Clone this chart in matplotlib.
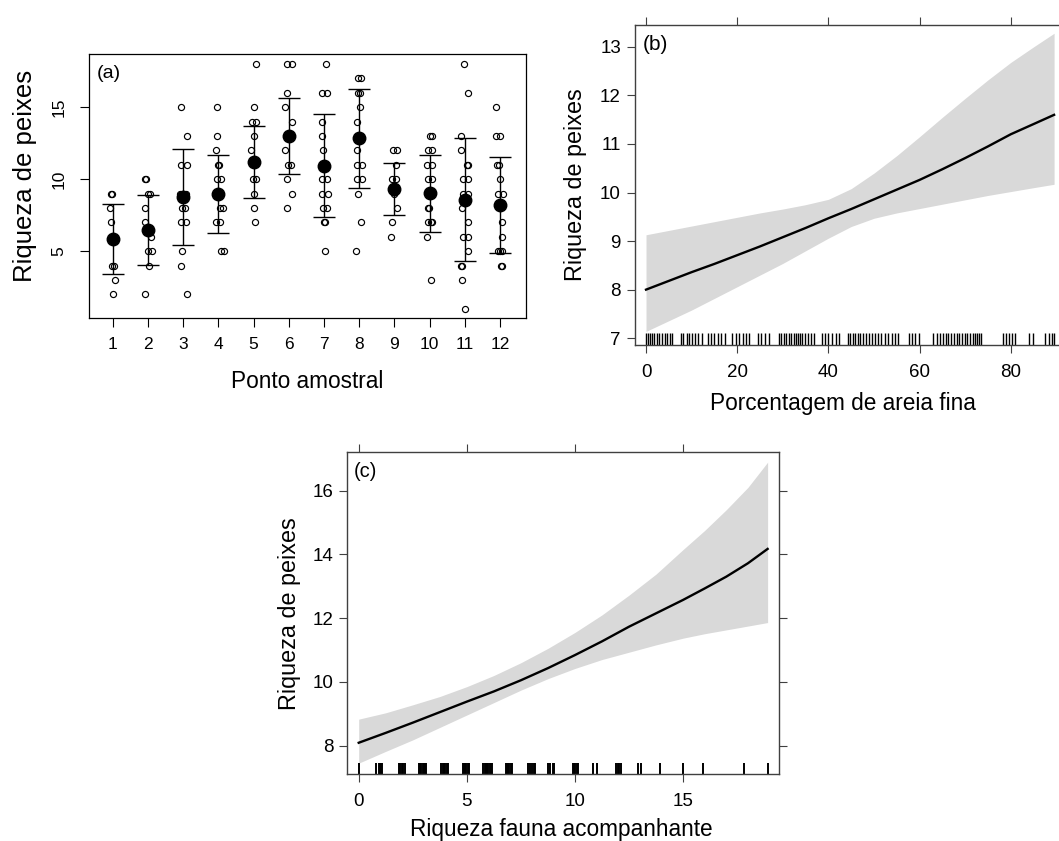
import matplotlib
matplotlib.use("Agg")
import matplotlib.pyplot as plt
import numpy as np

plt.rcParams['font.family'] = ['Liberation Sans', 'DejaVu Sans']

W, H = 1059, 841

# (a) riqueza de peixes por ponto amostral
pontos = list(range(1, 13))
riqueza_pontos = [
    [9, 9, 8, 7, 4, 4, 3, 2],
    [10, 10, 9, 9, 8, 7, 6, 5, 5, 4, 2],
    [15, 13, 11, 11, 9, 9, 9, 8, 8, 7, 7, 5, 4, 2],
    [15, 13, 12, 11, 11, 10, 10, 8, 8, 7, 7, 5, 5],
    [18, 15, 14, 14, 13, 12, 10, 10, 9, 8, 7],
    [18, 18, 16, 15, 14, 12, 11, 11, 10, 9, 8],
    [18, 16, 16, 14, 13, 12, 10, 10, 9, 9, 8, 8, 7, 7, 5],
    [17, 17, 16, 16, 15, 14, 12, 11, 11, 10, 10, 9, 7, 5],
    [12, 12, 11, 10, 10, 9, 8, 7, 6],
    [13, 13, 12, 12, 11, 11, 10, 10, 9, 8, 8, 7, 7, 7, 6, 3],
    [18, 16, 13, 12, 11, 11, 10, 10, 9, 9, 8, 7, 6, 6, 5, 4, 4, 3, 1],
    [15, 13, 13, 11, 11, 10, 9, 9, 7, 6, 5, 5, 5, 4, 4],
]
# deslocamento horizontal (jitter)
jitter_pontos = [
    [-0.05, -0.03, -0.07, -0.05, -0.02, 0.02, 0.05, 0.0],
    [-0.1, -0.07, 0.0, 0.05, -0.1, -0.1, 0.07, 0.0, 0.1, 0.04, -0.08],
    [-0.07, 0.1, -0.05, 0.12, -0.08, 0.0, 0.08, -0.03, 0.05, -0.05, 0.08, -0.04, -0.07, 0.1],
    [-0.05, -0.05, -0.08, -0.02, 0.02, -0.05, 0.08, 0.03, 0.12, -0.07, 0.05, 0.06, 0.16],
    [0.07, 0.0, -0.05, 0.07, 0.0, -0.07, -0.03, 0.08, 0.0, 0.0, 0.03],
    [-0.05, 0.1, -0.05, -0.1, 0.1, -0.1, -0.03, 0.06, -0.05, 0.08, -0.05],
    [0.05, -0.05, 0.08, -0.07, -0.07, -0.02, -0.05, 0.08, -0.05, 0.1, -0.04, 0.08, 0.0, 0.04, 0.03],
    [-0.03, 0.05, -0.02, 0.03, 0.03, -0.05, -0.06, -0.05, 0.07, -0.05, 0.08, -0.03, 0.05, -0.08],
    [-0.03, 0.08, 0.05, -0.07, 0.05, 0.0, 0.08, -0.07, -0.09],
    [0.02, 0.06, -0.05, 0.07, -0.06, 0.06, -0.05, 0.07, 0.0, -0.05, -0.02, -0.04, 0.03, 0.07, -0.06, 0.03],
    [-0.02, 0.1, -0.1, -0.12, 0.05, 0.08, -0.05, 0.08, -0.06, 0.08, -0.08, 0.1, -0.05, 0.08, 0.08, -0.1, -0.07, -0.08, 0.0],
    [-0.1, -0.12, 0.0, -0.07, -0.03, 0.0, -0.05, 0.08, 0.07, 0.07, -0.05, 0.0, 0.05, 0.03, 0.06],
]
media = [5.84, 6.45, 8.75, 8.95, 11.2, 13.0, 10.93, 12.86, 9.33, 9.03, 8.58, 8.2]
desvio = [2.42, 2.43, 3.32, 2.70, 2.48, 2.61, 3.58, 3.44, 1.79, 2.68, 4.25, 3.32]

# (b) porcentagem de areia fina
areia_x = [0, 5, 10, 15, 20, 25, 30, 35, 40, 45, 50, 55, 60, 65, 70, 75, 80, 85, 89.5]
areia_fit = [8.0, 8.18, 8.36, 8.53, 8.71, 8.89, 9.08, 9.27, 9.47, 9.66, 9.86, 10.06, 10.26,
             10.48, 10.71, 10.95, 11.2, 11.41, 11.6]
areia_sup = [9.13, 9.22, 9.31, 9.4, 9.49, 9.58, 9.66, 9.75, 9.86, 10.08, 10.4, 10.76, 11.15,
             11.55, 11.94, 12.32, 12.68, 13.0, 13.28]
areia_inf = [7.14, 7.36, 7.58, 7.82, 8.06, 8.3, 8.54, 8.8, 9.06, 9.3, 9.47, 9.58, 9.67,
             9.76, 9.85, 9.94, 10.02, 10.1, 10.17]
rug_areia = [0, 0.4, 0.9, 1.3, 1.8, 2.4, 2.9, 3.5, 4.1, 4.6, 5.2, 5.8,
             7.6, 8.2, 8.9, 9.4, 10.1, 10.8, 11.5, 12.2,
             13.6, 14.3, 15.0, 15.8, 16.5, 17.4,
             18.9, 19.7, 20.4, 21.2, 21.9, 22.6,
             24.6, 25.3, 26.1, 27.0,
             29.1, 29.7, 30.2, 30.8, 31.3, 31.9, 32.5, 33.0, 33.4, 33.8,
             34.3, 34.9, 35.5, 36.2, 36.8,
             38.6, 39.3, 40.0, 40.8, 41.6, 42.3,
             44.2, 44.8, 45.3, 45.9, 46.5, 47.0, 47.6, 48.3, 48.9, 49.6,
             50.2, 50.9, 51.6, 52.4, 53.1, 53.9, 54.6, 55.3,
             57.6, 58.3, 59.1, 59.9,
             63.0, 63.8, 64.5, 65.1, 65.7, 66.3, 66.9, 67.5, 68.1, 68.7,
             69.3, 69.9, 70.5, 71.1, 71.7, 72.2, 72.6, 73.0, 73.5,
             78.3, 78.9, 79.5, 80.2, 81.0,
             84.1, 84.8,
             87.6, 88.3, 89.0, 89.5]

# (c) riqueza da fauna acompanhante
fauna_x = [0, 1.25, 2.5, 3.75, 5, 6.25, 7.5, 8.75, 10, 11.25, 12.5, 13.75, 15, 16, 17, 18, 18.91]
fauna_fit = [8.09, 8.40, 8.72, 9.05, 9.38, 9.70, 10.05, 10.43, 10.84, 11.27, 11.73, 12.15,
             12.57, 12.93, 13.30, 13.72, 14.17]
fauna_sup = [8.83, 9.03, 9.28, 9.54, 9.85, 10.2, 10.6, 11.05, 11.55, 12.1, 12.72, 13.38,
             14.15, 14.75, 15.4, 16.1, 16.89]
fauna_inf = [7.45, 7.82, 8.18, 8.57, 8.96, 9.35, 9.74, 10.1, 10.42, 10.7, 10.93, 11.16,
             11.37, 11.51, 11.63, 11.75, 11.86]
rug_fauna = [0.0,
             0.82, 0.92, 0.97, 1.02, 1.07,
             1.87, 1.93, 1.99, 2.05, 2.12,
             2.78, 2.84, 2.9, 2.96, 3.02, 3.08, 3.13,
             3.82, 3.88, 3.94, 4.0, 4.06, 4.12,
             4.8, 4.86, 4.92, 4.98, 5.04, 5.1,
             5.76, 5.82, 5.88, 5.94, 6.0, 6.06, 6.12, 6.18,
             6.79, 6.85, 6.91, 6.97, 7.03, 7.09,
             7.82, 7.9, 8.02, 8.1, 8.16,
             8.77, 8.85, 8.97, 9.05,
             9.9, 9.96, 10.02, 10.08, 10.14,
             10.83, 11.01,
             11.9, 11.98, 12.06, 12.13,
             12.9, 13.07,
             13.92, 15.0, 15.94, 17.84, 18.91]


def rect(l, t, r, b):
    return [l / W, 1 - b / H, (r - l) / W, (b - t) / H]


fig = plt.figure(figsize=(W / 100, H / 100), dpi=100)

# ---- painel (a)
ax = fig.add_axes(rect(89.3, 54.3, 526, 318.3))
for p, vals, dxs in zip(pontos, riqueza_pontos, jitter_pontos):
    ax.plot(np.array(dxs) + p, vals, 'o', mfc='none', mec='black', ms=4.4, mew=0.85, zorder=2)
ax.errorbar(pontos, media, yerr=desvio, fmt='none', ecolor='black',
            elinewidth=1.0, capsize=8, capthick=1.0, zorder=3)
ax.plot(pontos, media, 'o', color='black', ms=9, zorder=4)
ax.set_xlim(0.33, 12.74)
ax.set_ylim(0.33, 18.68)
ax.set_xticks(pontos)
ax.set_yticks([5, 10, 15])
ax.set_yticklabels(['5', '10', '15'], rotation=90, va='center')
ax.tick_params(direction='out', length=6.5, width=0.8, labelsize=12.5)
ax.tick_params(axis='x', pad=7)
ax.tick_params(axis='y', pad=10)
for s in ax.spines.values():
    s.set_linewidth(0.9)
ax.set_xlabel('Ponto amostral', fontsize=16.3, va='center')
ax.xaxis.set_label_coords(0.5, -0.2375)
ax.set_ylabel('Riqueza de peixes', fontsize=18.5, va='center')
ax.yaxis.set_label_coords(-0.147, 0.54)
fig.text(109 / W, 1 - 74 / H, '(a)', fontsize=14, ha='center', va='center')

# ---- painéis (b) e (c), estilo lattice
grey = '#404040'


def estilo_lattice(ax):
    ax.tick_params(top=True, right=True, labeltop=False, labelright=False,
                   direction='out', length=6, width=0.8, color=grey, labelsize=13.5)
    ax.tick_params(axis='x', pad=8)
    ax.tick_params(axis='y', pad=4)
    for s in ax.spines.values():
        s.set_color(grey)
        s.set_linewidth(1.0)


ax = fig.add_axes(rect(634.8, 25, 1065.5, 345))
ax.fill_between(areia_x, areia_inf, areia_sup, color='#d9d9d9', lw=0)
ax.plot(areia_x, areia_fit, color='black', lw=1.7)
ax.vlines(rug_areia, 0, 0.037, transform=ax.get_xaxis_transform(), color='black', lw=1.0)
ax.set_xlim(-2.46, 92)
ax.set_ylim(6.86, 13.45)
ax.set_xticks([0, 20, 40, 60, 80])
ax.set_yticks([7, 8, 9, 10, 11, 12, 13])
estilo_lattice(ax)
ax.set_xlabel('Porcentagem de areia fina', fontsize=16.3, va='center')
ax.xaxis.set_label_coords(0.483, -0.184)
ax.set_ylabel('Riqueza de peixes', fontsize=16.8, va='center')
ax.yaxis.set_label_coords(-0.137, 0.5)
fig.text(655 / W, 1 - 45 / H, '(b)', fontsize=15, ha='center', va='center')

ax = fig.add_axes(rect(347.1, 452.3, 779.3, 774))
ax.fill_between(fauna_x, fauna_inf, fauna_sup, color='#d9d9d9', lw=0)
ax.plot(fauna_x, fauna_fit, color='black', lw=1.7)
ax.vlines(rug_fauna, 0, 0.035, transform=ax.get_xaxis_transform(), color='black', lw=1.4)
ax.set_xlim(-0.537, 19.45)
ax.set_ylim(7.11, 17.2)
ax.set_xticks([0, 5, 10, 15])
ax.set_yticks([8, 10, 12, 14, 16])
estilo_lattice(ax)
ax.set_xlabel('Riqueza fauna acompanhante', fontsize=16.3, va='center')
ax.xaxis.set_label_coords(0.495, -0.174)
ax.set_ylabel('Riqueza de peixes', fontsize=16.8, va='center')
ax.yaxis.set_label_coords(-0.134, 0.5)
fig.text(365 / W, 1 - 471.5 / H, '(c)', fontsize=14.5, ha='center', va='center')

fig.savefig('out.png', dpi=100)
